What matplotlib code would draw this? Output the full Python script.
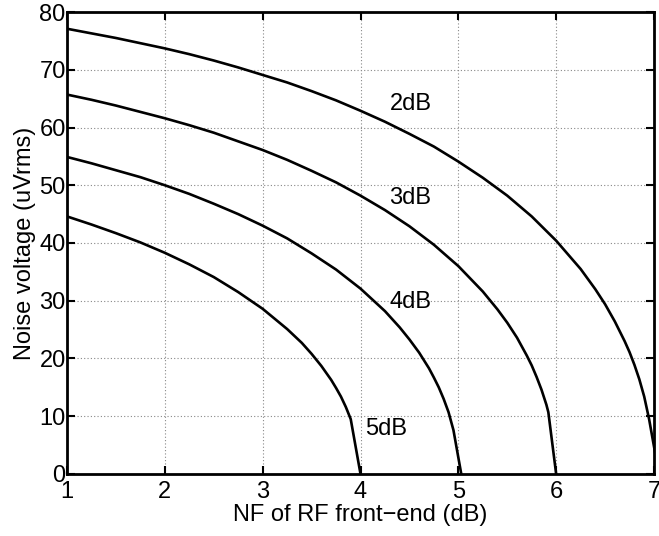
import matplotlib
matplotlib.use('Agg')
import matplotlib.pyplot as plt

plt.rcParams['font.family'] = ['Liberation Sans', 'DejaVu Sans']

# NF of RF front-end (dB) / noise voltage (uVrms)
nf_2db = [1.0, 1.25, 1.5, 1.75, 2.0, 2.25, 2.5, 2.75, 3.0, 3.25, 3.5, 3.75, 4.0, 4.25,
          4.5, 4.75, 5.0, 5.25, 5.5, 5.75, 6.0, 6.25, 6.4, 6.5, 6.6, 6.7, 6.75, 6.8,
          6.85, 6.9, 6.95, 7.05]
v_2db = [77.1, 76.3, 75.5, 74.6, 73.7, 72.7, 71.6, 70.4, 69.1, 67.8, 66.3, 64.7, 62.9, 61.0,
         58.9, 56.7, 54.1, 51.3, 48.2, 44.6, 40.4, 35.5, 32.0, 29.4, 26.4, 23.0, 21.1, 18.9,
         16.4, 13.4, 9.5, 0.0]

nf_3db = [1.0, 1.25, 1.5, 1.75, 2.0, 2.25, 2.5, 2.75, 3.0, 3.25, 3.5, 3.75, 4.0, 4.25,
          4.5, 4.75, 5.0, 5.25, 5.4, 5.5, 5.6, 5.7, 5.75, 5.8, 5.85, 5.9, 5.92, 6.0]
v_3db = [65.7, 64.8, 63.8, 62.7, 61.6, 60.4, 59.1, 57.6, 56.1, 54.4, 52.5, 50.5, 48.2, 45.7,
         42.9, 39.7, 36.0, 31.6, 28.5, 26.2, 23.6, 20.5, 18.8, 16.8, 14.6, 12.0, 10.7, 0.0]

nf_4db = [1.0, 1.25, 1.5, 1.75, 2.0, 2.25, 2.5, 2.75, 3.0, 3.25, 3.5, 3.75, 4.0, 4.25,
          4.4, 4.5, 4.6, 4.7, 4.75, 4.8, 4.85, 4.9, 4.95, 5.03]
v_4db = [54.9, 53.8, 52.6, 51.4, 50.0, 48.5, 46.8, 45.0, 43.0, 40.8, 38.2, 35.4, 32.1, 28.2,
         25.4, 23.3, 21.0, 18.3, 16.7, 15.0, 13.0, 10.7, 7.6, 0.0]

nf_5db = [1.0, 1.25, 1.5, 1.75, 2.0, 2.25, 2.5, 2.75, 3.0, 3.25, 3.4, 3.5, 3.6, 3.7,
          3.75, 3.8, 3.85, 3.9, 4.0]
v_5db = [44.6, 43.2, 41.7, 40.1, 38.3, 36.3, 34.1, 31.5, 28.6, 25.1, 22.7, 20.8, 18.7, 16.3,
         14.9, 13.4, 11.6, 9.5, 0.0]

labels = ['2dB', '3dB', '4dB', '5dB']
label_x = [4.51, 4.51, 4.51, 4.26]
label_y = [64.0, 47.8, 29.8, 7.8]

fig = plt.figure(figsize=(6.59, 5.36), dpi=100)
ax = fig.add_axes([0.1017, 0.1157, 0.8907, 0.8619])

for xs, ys in [(nf_2db, v_2db), (nf_3db, v_3db), (nf_4db, v_4db), (nf_5db, v_5db)]:
    ax.plot(xs, ys, color='black', linewidth=1.9)

for t, x, y in zip(labels, label_x, label_y):
    ax.text(x, y, t, fontsize=17, ha='center', va='center')

ax.set_xlim(1, 7)
ax.set_ylim(0, 80)
ax.set_xticks(range(1, 8))
ax.set_yticks(range(0, 81, 10))
ax.grid(True, linestyle=(0, (1, 2)), color='#888888', linewidth=0.8)
ax.tick_params(direction='in', top=True, right=True, length=6, width=1.5,
               labelsize=17)
ax.tick_params(axis='x', pad=5)
ax.tick_params(axis='y', pad=1)
for s in ax.spines.values():
    s.set_linewidth(2)

ax.set_xlabel('NF of RF front\u2212end (dB)', fontsize=17, va='center')
ax.xaxis.set_label_coords(0.5, -0.089)
ax.set_ylabel('Noise voltage (uVrms)', fontsize=17, va='center')
ax.yaxis.set_label_coords(-0.072, 0.5)

fig.savefig('out.png', dpi=100)
